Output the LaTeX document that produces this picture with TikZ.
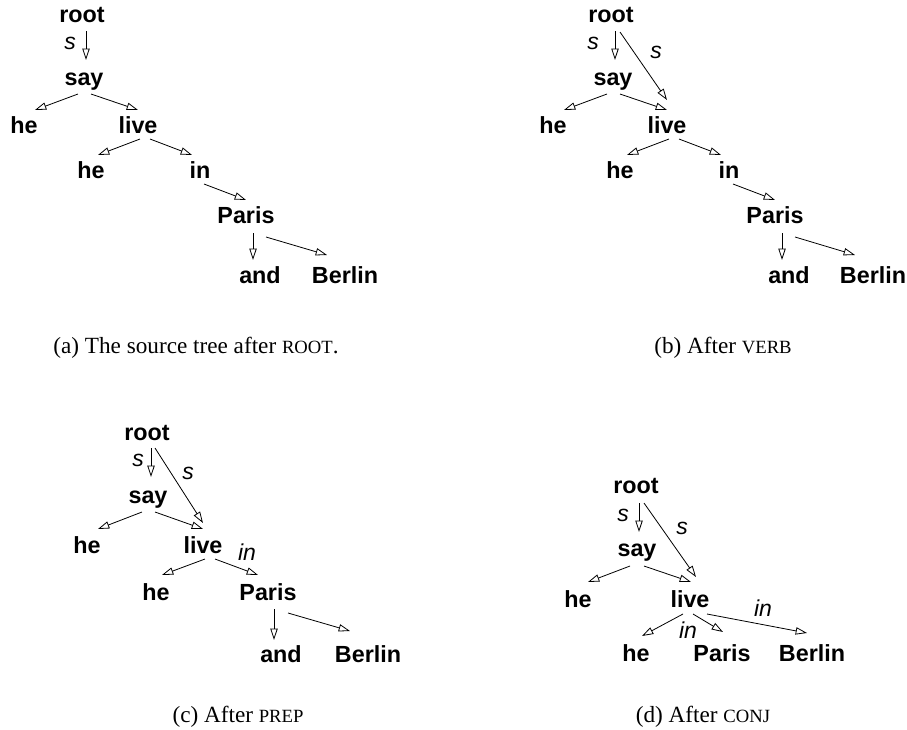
\documentclass[tikz,border=0pt]{standalone}
\usepackage{fontspec}
\setmainfont{Liberation Serif}
\newfontfamily\hvfont{Liberation Sans}
\usetikzlibrary{arrows.meta,calc}
\newcommand\fsc[1]{{\fontsize{14}{16}\selectfont #1}}
\newcommand\arc[4]{\draw[arr] ($(#1.base)+(#2)$) -- ($(#3.base)+(#4)$);}
\begin{document}
\begin{tikzpicture}[x=0.75pt,y=-0.75pt,
  w/.style={font=\hvfont\bfseries\fontsize{17.5}{18}\selectfont, inner sep=0pt, anchor=base},
  lab/.style={font=\hvfont\itshape\fontsize{17.25}{18}\selectfont, inner sep=0pt},
  captext/.style={font=\fontsize{17.4}{20}\selectfont, inner sep=0pt, anchor=base},
  arr/.style={line width=0.6pt, -{Triangle[open,length=8.5pt,width=5.5pt]}}]
\useasboundingbox (0,0) rectangle (907,729);

% ---------- (a) ----------
\node[w] (a-root) at (82,22) {root};
\node[w] (a-say) at (84,85) {say};
\node[w] (a-he) at (24,133) {he};
\node[w] (a-live) at (138,133) {live};
\node[w] (a-he2) at (91,178) {he};
\node[w] (a-in) at (200,178) {in};
\node[w] (a-paris) at (246,223) {Paris};
\node[w] (a-and) at (260,283) {and};
\node[w] (a-berlin) at (345,283) {Berlin};
\node[lab] (a-s1) at (70,43) {s};
\arc{a-root}{4,9}{a-say}{2,-25}
\arc{a-say}{-6,9}{a-he}{11,-23}
\arc{a-say}{7,9}{a-live}{0,-23}
\arc{a-live}{2,6}{a-he2}{7,-23}
\arc{a-live}{12,6}{a-in}{-8,-23}
\arc{a-in}{4,6}{a-paris}{0,-23}
\arc{a-paris}{7,10}{a-and}{-7,-23}
\arc{a-paris}{20,14}{a-berlin}{-18,-28}
\node[captext] (cap-a) at (196,353) {(a) The source tree after \fsc{ROOT}.};

% ---------- (b) ----------
\begin{scope}[shift={(529,0)}]
\node[w] (b-root) at (82,22) {root};
\node[w] (b-say) at (84,85) {say};
\node[w] (b-he) at (24,133) {he};
\node[w] (b-live) at (138,133) {live};
\node[w] (b-he2) at (91,178) {he};
\node[w] (b-in) at (200,178) {in};
\node[w] (b-paris) at (246,223) {Paris};
\node[w] (b-and) at (260,283) {and};
\node[w] (b-berlin) at (344,283) {Berlin};
\node[lab] (b-s1) at (64,43) {s};
\node[lab] (b-s2) at (127,52) {s};
\arc{b-root}{4,9}{b-say}{2,-25}
\arc{b-root}{9,10}{b-live}{0,-33}
\arc{b-say}{-6,9}{b-he}{11,-23}
\arc{b-say}{7,9}{b-live}{0,-23}
\arc{b-live}{2,6}{b-he2}{7,-23}
\arc{b-live}{12,6}{b-in}{-8,-23}
\arc{b-in}{4,6}{b-paris}{0,-23}
\arc{b-paris}{7,10}{b-and}{-7,-23}
\arc{b-paris}{20,14}{b-berlin}{-18,-28}
\end{scope}
\node[captext] (cap-b) at (723,353) {(b) After \fsc{VERB}};

% ---------- (c) ----------
\node[w] (c-root) at (147,440) {root};
\node[w] (c-say) at (148,503) {say};
\node[w] (c-he) at (87,553) {he};
\node[w] (c-live) at (203,553) {live};
\node[w] (c-he2) at (156,600) {he};
\node[w] (c-paris) at (268,600) {Paris};
\node[w] (c-and) at (281,662) {and};
\node[w] (c-berlin) at (368,662) {Berlin};
\node[lab] (c-s1) at (138,460) {s};
\node[lab] (c-s2) at (188,473) {s};
\node[lab] (c-in) at (247,552) {in};
\arc{c-root}{4,8}{c-say}{3,-26}
\arc{c-root}{8,8}{c-live}{0,-30}
\arc{c-say}{-6,9}{c-he}{11,-24}
\arc{c-say}{7,9}{c-live}{0,-24}
\arc{c-live}{2,6}{c-he2}{6,-25}
\arc{c-live}{12,6}{c-paris}{-10,-25}
\arc{c-paris}{6,9}{c-and}{-7,-22}
\arc{c-paris}{20,13}{c-berlin}{-18,-31}
\node[captext] (cap-c) at (238,722) {(c) After \fsc{PREP}};

% ---------- (d) ----------
\node[w] (d-root) at (636,493) {root};
\node[w] (d-say) at (637,556) {say};
\node[w] (d-he) at (578,607) {he};
\node[w] (d-live) at (690,607) {live};
\node[w] (d-he2) at (636,661) {he};
\node[w] (d-paris) at (722,661) {Paris};
\node[w] (d-berlin) at (812,661) {Berlin};
\node[lab] (d-s1) at (623,515) {s};
\node[lab] (d-s2) at (682,528) {s};
\node[lab] (d-in1) at (763,608) {in};
\node[lab] (d-in2) at (688,630) {in};
\arc{d-root}{3,10}{d-say}{2,-24}
\arc{d-root}{8,10}{d-live}{6,-30}
\arc{d-say}{-7,10}{d-he}{10,-25}
\arc{d-say}{7,10}{d-live}{1,-25}
\arc{d-live}{-7,7}{d-he2}{6,-25}
\arc{d-live}{3,7}{d-paris}{1,-29}
\arc{d-live}{17,7}{d-berlin}{-5,-28}
\node[captext] (cap-d) at (703,722) {(d) After \fsc{CONJ}};
\end{tikzpicture}
\end{document}
